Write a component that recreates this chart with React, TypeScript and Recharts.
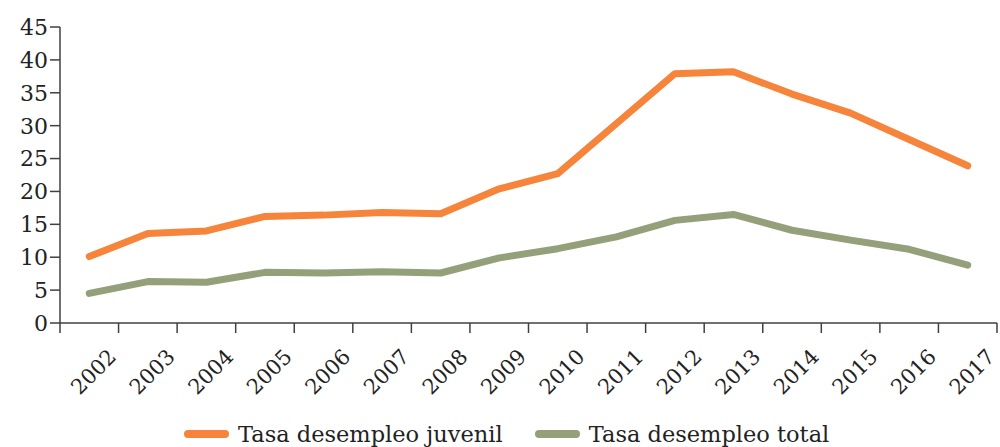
import React from 'react';
import { LineChart, Line, XAxis, YAxis, Legend } from 'recharts';

const years = ['2002', '2003', '2004', '2005', '2006', '2007', '2008', '2009', '2010', '2011', '2012', '2013', '2014', '2015', '2016', '2017'];
const juvenil = [10.1, 13.6, 14.0, 16.2, 16.4, 16.8, 16.6, 20.4, 22.7, 30.3, 37.9, 38.2, 34.8, 31.9, 27.9, 23.9];
const total = [4.5, 6.3, 6.2, 7.7, 7.6, 7.8, 7.6, 9.9, 11.3, 13.1, 15.6, 16.5, 14.1, 12.6, 11.2, 8.8];
const yTicks = [0, 5, 10, 15, 20, 25, 30, 35, 40, 45];
const seriesNames = ['Tasa desempleo juvenil', 'Tasa desempleo total'];

const data = years.map((y, i) => ({ year: y, juvenil: juvenil[i], total: total[i] }));

const W = 1000;
const H = 447;
const M = { top: 27, right: 3, left: 0, bottom: 0 };
const Y_AXIS_W = 60;
const PLOT_W = W - M.left - M.right - Y_AXIS_W;
const BAND = PLOT_W / years.length;
const FONT = '"DejaVu Serif", serif';
const AXIS = '#404040';
const ORANGE = '#F6843B';
const GREEN = '#93A07A';

const XTick = (props: any) => {
  const { x, y, payload, index } = props;
  const left = x - BAND / 2;
  const right = x + BAND / 2;
  const ax = right - 1;
  const ay = y + 35;
  return (
    <g>
      <line x1={left} x2={left} y1={y} y2={y + 10} stroke={AXIS} strokeWidth={1.5} />
      {index === years.length - 1 && (
        <line x1={right} x2={right} y1={y} y2={y + 10} stroke={AXIS} strokeWidth={1.5} />
      )}
      <text
        x={ax}
        y={ay}
        textAnchor="end"
        transform={`rotate(-45 ${ax} ${ay})`}
        fontFamily={FONT}
        fontSize={21}
        fill="#222"
      >
        {payload.value}
      </text>
    </g>
  );
};

const YTick = (props: any) => {
  const { x, y, payload } = props;
  return (
    <text x={x} y={y} dy="0.36em" textAnchor="end" fontFamily={FONT} fontSize={22} fill="#222">
      {payload.value}
    </text>
  );
};

const LegendContent = () => {
  const colors = [ORANGE, GREEN];
  const gaps = [32, 0];
  return (
    <div style={{ display: 'flex', alignItems: 'center', height: 44, paddingTop: 18, boxSizing: 'border-box', paddingLeft: 184 }}>
      {seriesNames.map((n, i) => (
        <div key={n} style={{ display: 'flex', alignItems: 'center', marginRight: gaps[i] }}>
          <div style={{ width: 45, height: 8, borderRadius: 4, background: colors[i], marginRight: 9 }} />
          <span style={{ fontFamily: FONT, fontSize: 22.5, color: '#222', whiteSpace: 'nowrap' }}>{n}</span>
        </div>
      ))}
    </div>
  );
};

export default function App() {
  return (
    <div style={{ position: 'absolute', left: 0, top: 0, width: W, height: H, background: '#fff' }}>
      <LineChart width={W} height={H} data={data} margin={M}>
        <XAxis
          dataKey="year"
          scale="band"
          interval={0}
          tickLine={false}
          tickSize={0}
          tickMargin={0}
          height={80}
          axisLine={{ stroke: AXIS, strokeWidth: 1.5 }}
          tick={<XTick />}
        />
        <YAxis
          width={Y_AXIS_W}
          domain={[0, 45]}
          ticks={yTicks}
          interval={0}
          tickSize={10}
          tickMargin={2}
          tickLine={{ stroke: AXIS, strokeWidth: 1.5 }}
          axisLine={{ stroke: AXIS, strokeWidth: 1.5 }}
          tick={<YTick />}
        />
        <Legend verticalAlign="bottom" height={44} wrapperStyle={{ left: 0, width: W }} content={<LegendContent />} />
        <Line
          type="linear"
          dataKey="juvenil"
          name={seriesNames[0]}
          stroke={ORANGE}
          strokeWidth={7}
          strokeLinecap="round"
          strokeLinejoin="round"
          dot={false}
          isAnimationActive={false}
        />
        <Line
          type="linear"
          dataKey="total"
          name={seriesNames[1]}
          stroke={GREEN}
          strokeWidth={7}
          strokeLinecap="round"
          strokeLinejoin="round"
          dot={false}
          isAnimationActive={false}
        />
      </LineChart>
    </div>
  );
}
